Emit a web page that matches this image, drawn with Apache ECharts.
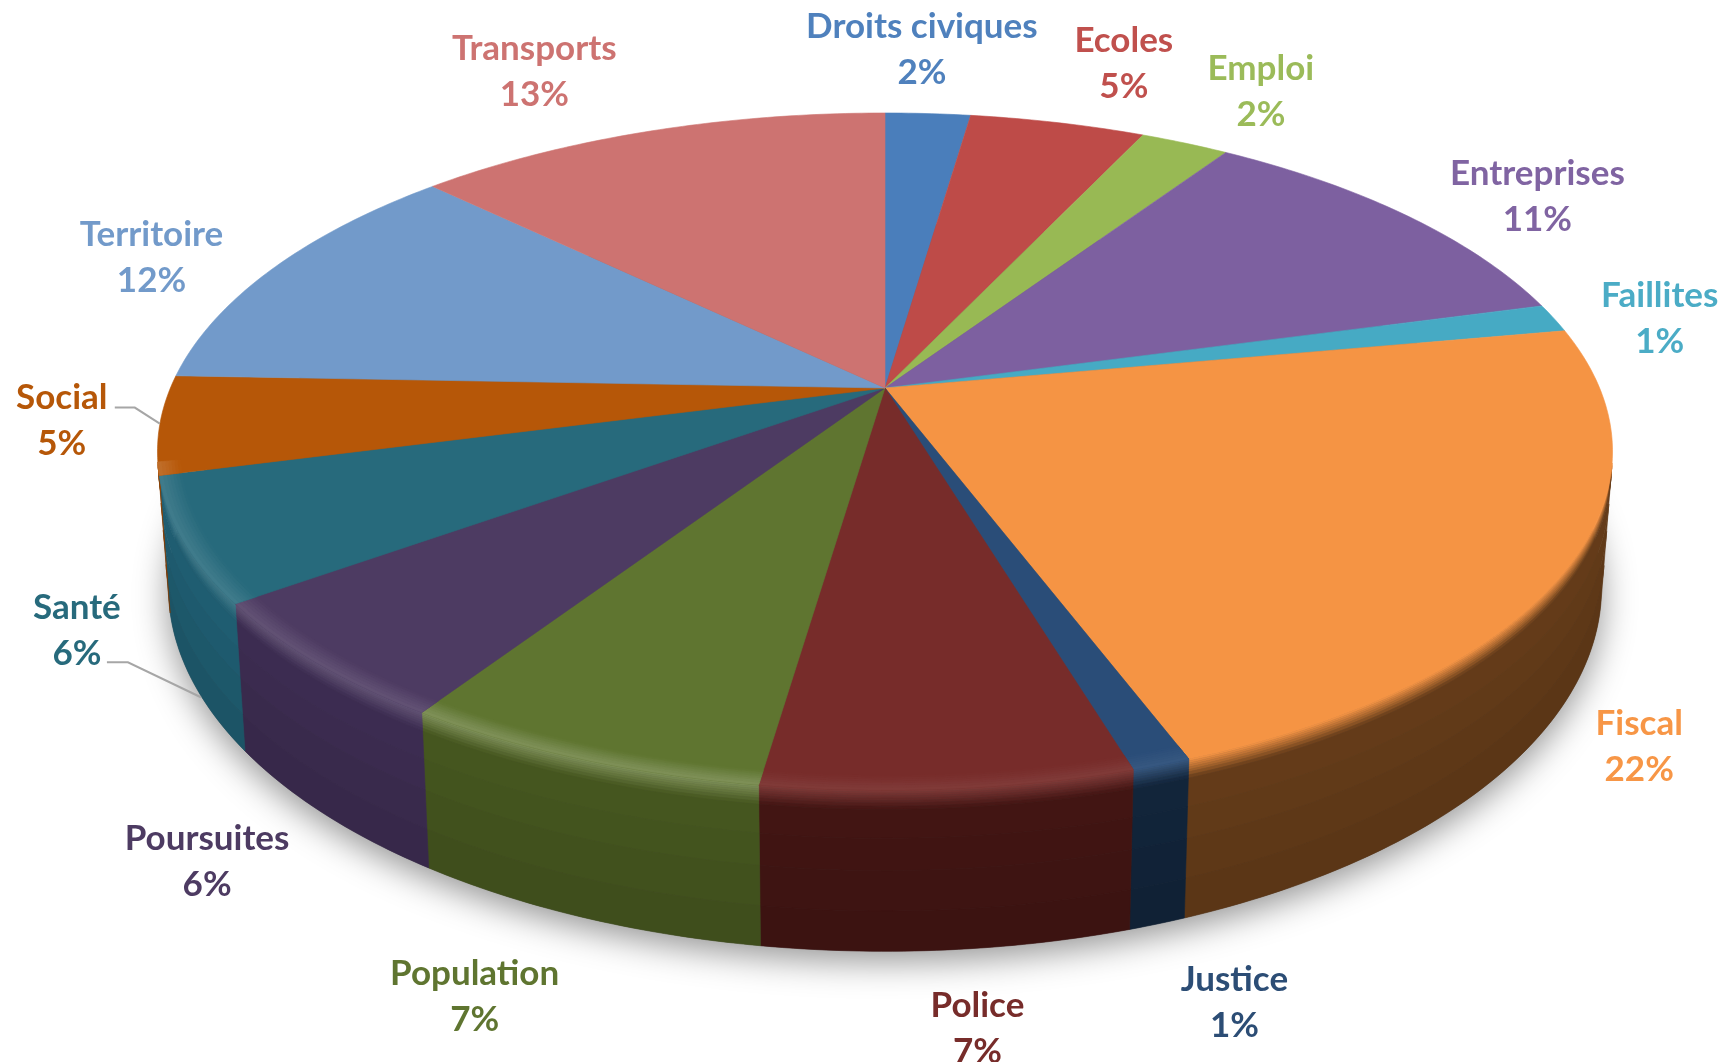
<!DOCTYPE html>
<html>
<head>
<meta charset="utf-8">
<style>html,body{margin:0;padding:0;background:#fff}#c{width:1726px;height:1062px}</style>
<script src="https://cdn.jsdelivr.net/npm/echarts@6/dist/echarts.min.js"></script>
</head>
<body>
<div id="c"></div>
<script>
// ---- data ----
const categories = ['Droits civiques','Ecoles','Emploi','Entreprises','Faillites','Fiscal','Justice','Police','Population','Poursuites','Santé','Social','Territoire','Transports'];
const shares = [2.27,4.67,2.36,11.45,1.35,22.2,1.1,6.9,6.9,5.8,5.9,4.7,11.7,12.7];

// ---- styles ----
const topColors  = ['#4a7ebb','#be4b48','#98b954','#7d60a0','#46aac4','#f59444','#2a4d78','#772c2a','#5f7530','#4d3b62','#276a7c','#b65708','#729aca','#cd7371'];
const wallColors = ['#2c4c70','#72302c','#5c6f32','#4b3a60','#2a6676','#653c19','#12253b','#431513','#46571f','#3d2d52','#1f5e72','#8a4206','#45607e','#7b4544'];
const rimLight   = [0,0,0,0,0,0,0.06,0.07,0.2,0.12,0.12,0.14,0,0];
const labelColors= ['#4f81bd','#c0504d','#9bbb59','#8064a2','#4bacc6','#f79646','#2c4d75','#772c2a','#5f7530','#4d3b62','#276a7c','#b65708','#729aca','#cd7371'];
// label offset from the slice's rim midpoint
const labelNudge = [[-6,-64],[66,-59],[76,-51],[131,-19],[106,1],[69,181],[73,238],[29,240],[-104,238],[-108,200],[-106,90],[-98,-4],[-122,-10],[-114,-60]];
// leader lines, relative to the slice's rim midpoint
const leaders = {10:[[18,157],[-55,122],[-76,122]], 11:[[0,-1],[-25,-17],[-45,-17]]};

// ---- projected disc geometry ----
const cx=885, cy=388, a=714.6, b=326.6, k=0.1876, H=131, shrink=0.985;
const total = shares.reduce((s,v)=>s+v,0);
const cum=[0]; shares.forEach((v,i)=>cum.push(cum[i]+v));
const ang=p=>p/total*2*Math.PI;
function proj(t,r,z){
  const u=r*Math.sin(t), v=-r*Math.cos(t), w=1-k*v;
  return [cx+a*(1-z*(1-shrink))*u/w, cy+(b*v+z*H)/w];
}
function hex(c){return [1,3,5].map(i=>parseInt(c.substr(i,2),16));}
function mixRaw(A,B,f){return A.map((x,i)=>x+(B[i]-x)*f);}
function css(A){return 'rgb('+A.map(Math.round).join(',')+')';}
function arcAngles(t0,t1){const n=Math.max(2,Math.ceil((t1-t0)/(Math.PI/240)));const r=[];for(let i=0;i<=n;i++)r.push(t0+(t1-t0)*i/n);return r;}
function frontRun(t0,t1){ // keep the part of the arc whose wall faces the viewer
  const list=arcAngles(t0,t1),out=[];
  for(let i=0;i<list.length-1;i++){
    const p=proj(list[i],1,0),q=proj(list[i+1],1,0),o=proj(list[i],1,1);
    const area=(q[0]-p[0])*(o[1]-p[1])-(q[1]-p[1])*(o[0]-p[0]);
    if(area<0){ if(!out.length) out.push(list[i]); out.push(list[i+1]); }
  }
  return out;
}
function band(list,r1,z1,r2,z2,fill){
  const pts=list.map(t=>proj(t,r1,z1)).concat(list.slice().reverse().map(t=>proj(t,r2,z2)));
  return {type:'polygon',shape:{points:pts},style:{fill:fill,stroke:fill,lineWidth:0.6}};
}
const WHITE=[255,255,255];

function renderShadow(){
  const pts=arcAngles(0,2*Math.PI).map(t=>proj(t,1,1));
  return {type:'polygon',shape:{points:pts},style:{fill:'#555',shadowBlur:34,shadowColor:'rgba(0,0,0,0.42)',shadowOffsetY:10}};
}
function renderWall(params,api){
  const i=params.dataIndex, t0=ang(cum[i]), t1=t0+ang(api.value(0));
  const list=frontRun(t0,t1); if(list.length<2) return {type:'group',children:[]};
  const rim=mixRaw(hex(topColors[i]),WHITE,rimLight[i]), wall=hex(wallColors[i]);
  const zs=[0,0.012,0.024,0.036,0.05,0.065,0.08,0.1,0.12,0.3,0.5,0.75,1], kids=[];
  const deep=wall.map(x=>x*0.88);
  for(let j=0;j<zs.length-1;j++){
    const zm=(zs[j]+zs[j+1])/2;
    const col=zm<0.12?mixRaw(rim,wall,zm/0.12):mixRaw(wall,deep,(zm-0.12)/0.88);
    kids.push(band(list,1,zs[j],1,zs[j+1],css(col)));
  }
  return {type:'group',children:kids};
}
function renderTop(params,api){
  const i=params.dataIndex, t0=ang(cum[i]), t1=t0+ang(api.value(0));
  const list=arcAngles(t0,t1);
  const pts=[proj(0,0,0)].concat(list.map(t=>proj(t,1,0)));
  const kids=[{type:'polygon',shape:{points:pts},style:{fill:topColors[i],stroke:topColors[i],lineWidth:0.6}}];
  const front=frontRun(t0,t1);
  if(front.length>1 && rimLight[i]>0){
    const rs=[0.97,0.974,0.978,0.982,0.986,0.99,0.995,1];
    for(let j=0;j<rs.length-1;j++){
      kids.push(band(front,rs[j],0,rs[j+1],0,css(mixRaw(hex(topColors[i]),WHITE,rimLight[i]*(j+0.5)/(rs.length-1)))));
    }
  }
  return {type:'group',children:kids};
}
function renderLabel(params,api){
  const i=params.dataIndex, val=api.value(0), mid=ang(cum[i])+ang(val)/2;
  const p=proj(mid,1,0), n=labelNudge[i], kids=[];
  if(leaders[i]){
    kids.push({type:'polyline',shape:{points:leaders[i].map(o=>[p[0]+o[0],p[1]+o[1]])},
      style:{fill:'none',stroke:'#a6a6a6',lineWidth:2}});
  }
  kids.push({type:'text',style:{text:categories[i]+'\n'+Math.round(val)+'%',x:p[0]+n[0],y:p[1]+n[1],
    align:'center',verticalAlign:'middle',fill:labelColors[i],lineHeight:46,
    font:'700 35px Lato'}});
  return {type:'group',children:kids};
}
const rows=shares.map(v=>[v]);
const chart=echarts.init(document.getElementById('c'),null,{renderer:'canvas'});
chart.setOption({
  animation:false,
  backgroundColor:'#ffffff',
  tooltip:{show:false},
  series:[
    {type:'custom',coordinateSystem:'none',silent:true,data:[[total]],renderItem:renderShadow,z:1,clip:false},
    {type:'custom',coordinateSystem:'none',silent:true,data:rows,renderItem:renderWall,z:2,clip:false},
    {type:'custom',coordinateSystem:'none',silent:true,data:rows,renderItem:renderTop,z:3,clip:false},
    {type:'custom',coordinateSystem:'none',silent:true,data:rows,renderItem:renderLabel,z:4,clip:false}
  ]
});
</script>
</body>
</html>
